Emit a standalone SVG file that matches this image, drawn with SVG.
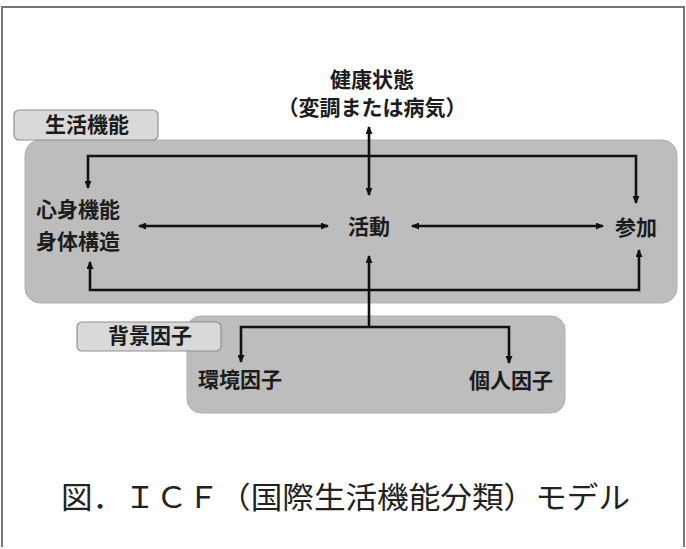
<svg xmlns="http://www.w3.org/2000/svg" width="686" height="549" viewBox="0 0 686 549">
<style>
.t{font-family:"Noto Sans CJK JP","Noto Sans CJK SC",sans-serif;font-weight:bold;fill:#1c1c1c;font-size:21px}
.cap{font-family:"Noto Sans CJK JP","Noto Sans CJK SC",sans-serif;font-weight:normal;fill:#222;font-size:30px}
.area{fill:#bdbdbd;stroke:#b0b0b0;stroke-width:1}
.lbl{fill:#d9d9d9;stroke:#8f8f8f;stroke-width:1.2}
.c{fill:none;stroke:#111;stroke-width:2.6}
</style>
<defs>
<marker id="ah" viewBox="0 0 8 7" refX="7" refY="3.5" markerWidth="8" markerHeight="7" markerUnits="userSpaceOnUse" orient="auto-start-reverse">
<path d="M0,0 L8,3.5 L0,7 z" fill="#111"/>
</marker>
</defs>
<rect x="0" y="0" width="686" height="549" fill="#fff"/>
<path d="M2,547 V7 H684 V547" fill="none" stroke="#777" stroke-width="2"/>

<g id="area-functioning">
<rect class="area" x="25" y="140" width="652" height="163" rx="15"/>
</g>
<g id="area-context">
<rect class="area" x="187" y="316" width="378" height="97" rx="14"/>
</g>
<g id="label-functioning">
<rect class="lbl" x="14" y="110" width="144" height="30" rx="5"/>
<text class="t" x="87" y="132" text-anchor="middle" font-size="22">生活機能</text>
</g>
<g id="label-context">
<rect class="lbl" x="77" y="322" width="144" height="29" rx="5"/>
<text class="t" x="150" y="343" text-anchor="middle" font-size="22">背景因子</text>
</g>

<g id="connectors">
<path class="c" d="M88,188 V156 H636 V203" marker-start="url(#ah)" marker-end="url(#ah)"/>
<path class="c" d="M90,262 V290 H639 V250" marker-start="url(#ah)" marker-end="url(#ah)"/>
<path class="c" d="M369,127 V195" marker-start="url(#ah)" marker-end="url(#ah)"/>
<path class="c" d="M139,226 H328" marker-start="url(#ah)" marker-end="url(#ah)"/>
<path class="c" d="M412,226 H603" marker-start="url(#ah)" marker-end="url(#ah)"/>
<path class="c" d="M369,327 V256" marker-end="url(#ah)"/>
<path class="c" d="M241,362 V327 H509 V363" marker-start="url(#ah)" marker-end="url(#ah)"/>
</g>

<g id="node-health">
<text class="t" x="372" y="87" text-anchor="middle" font-size="20">健康状態</text>
<text class="t" x="372" y="115" text-anchor="middle" font-size="20">（変調または病気）</text>
</g>
<g id="node-body">
<text class="t" x="36" y="217" font-size="21.5">心身機能</text>
<text class="t" x="36" y="249" font-size="21.5">身体構造</text>
</g>
<g id="node-activity">
<text class="t" x="369" y="234" text-anchor="middle" font-size="22">活動</text>
</g>
<g id="node-participation">
<text class="t" x="636" y="235" text-anchor="middle" font-size="22">参加</text>
</g>
<g id="node-environment">
<text class="t" x="240" y="387" text-anchor="middle" font-size="22">環境因子</text>
</g>
<g id="node-personal">
<text class="t" x="511" y="388" text-anchor="middle" font-size="22">個人因子</text>
</g>
<g id="caption">
<text class="cap" x="61" y="508" textLength="569" lengthAdjust="spacingAndGlyphs">図．ＩＣＦ（国際生活機能分類）モデル</text>
</g>
</svg>
